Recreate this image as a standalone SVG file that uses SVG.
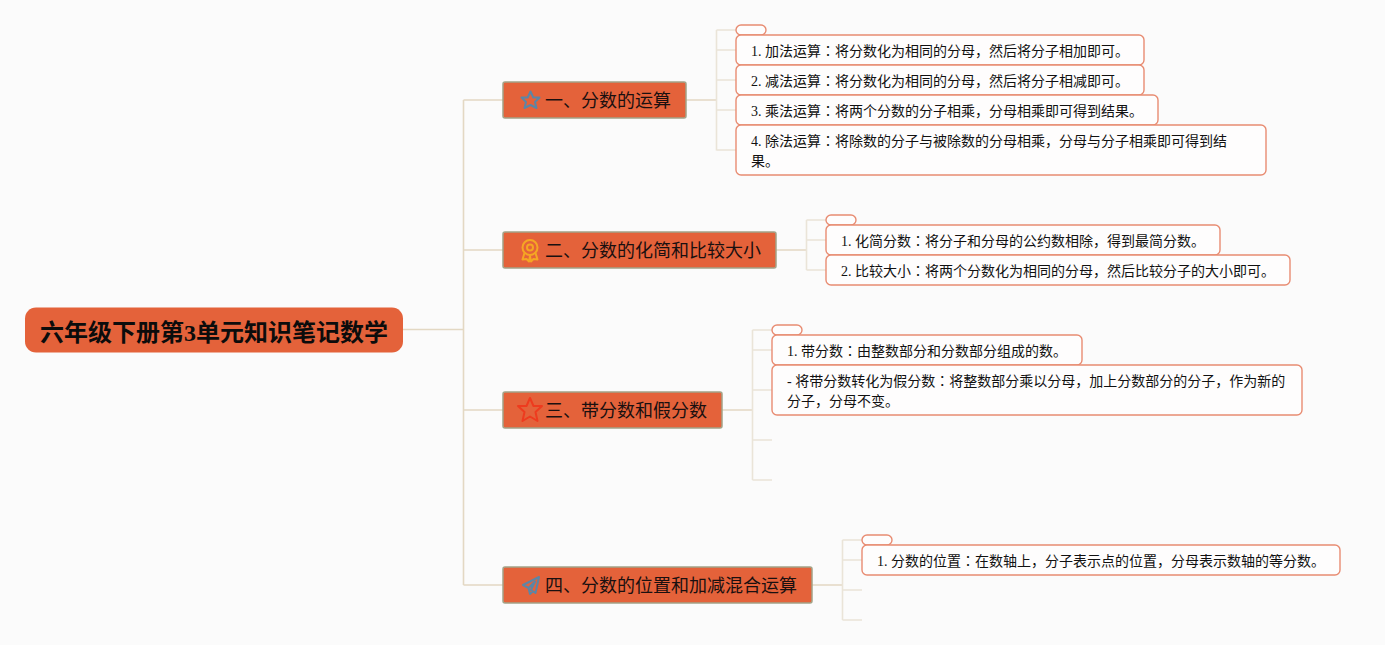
<svg xmlns="http://www.w3.org/2000/svg" width="1385" height="645" viewBox="0 0 1385 645">
<style>
text{font-family:"Liberation Serif","Noto Sans CJK SC",serif;fill:#111}
.j{font-family:"Noto Sans CJK JP",sans-serif}
.root rect{fill:#e4623a}
.root text{font-size:24px;font-weight:700;fill:#0c0c0c}
.branch rect{fill:#e4623a;stroke:#a3a388;stroke-width:1.5}
.branch text{font-size:18px;fill:#1a1010}
.leaf rect{fill:#fefdfd;stroke:#e88c72;stroke-width:1.4}
.leaf text{font-size:14px}
.c1{fill:none;stroke:#e3d8c3;stroke-width:1.6}
.c2{fill:none;stroke:#eae4d8;stroke-width:1.6}
.ic{fill:none;stroke-width:2;stroke-linejoin:round}
</style>
<rect width="1385" height="645" fill="#fbfbfb"/>
<g id="connectors">
<path class="c1" d="M403 329.500H463.500M463.500 100V585M463.500 100H503M463.500 250H503M463.500 410H503M463.500 585H503"/>
<path class="c1" d="M686 100H716M776 250H806M722 410H752M812 585H842"/>
<path class="c2" d="M716.500 30V150.500M716.500 30H736M716.500 50H736M716.500 80H736M716.500 110H736M716.500 150H736"/>
<path class="c2" d="M806.500 220V270M806.500 220H826M806.500 240H826M806.500 270H826"/>
<path class="c2" d="M752.500 330V480M752.500 330H772M752.500 350H772M752.500 390H772M752.500 440H772M752.500 480H772"/>
<path class="c2" d="M842.500 540V620M842.500 540H862M842.500 560H862M842.500 590H862M842.500 620H862"/>
</g>
<g id="root" class="root"><rect x="25" y="307.500" width="378" height="45" rx="11"/><text x="40" y="341">六年级下册第3单元知识笔记数学</text></g>

<g id="branch1" class="branch"><rect x="503" y="82" width="183" height="36" rx="2"/>
<path class="ic" stroke="#5b86a6" stroke-width="2.500" d="M530.500 91.500L533.300 97.500H539.500L535 102L536.500 108L530.500 105L524.500 108L526 102L521.500 97.500H527.700Z"/>
<text x="545" y="107">一、分数的运算</text></g>
<g id="branch2" class="branch"><rect x="503" y="232" width="273" height="36" rx="2"/>
<g class="ic" stroke="#f5a623"><circle cx="530" cy="247.500" r="7.500"/><circle cx="530" cy="247.500" r="3"/><path d="M524.500 253L522.500 259.500L526.500 259L529 261.500L530 256L531 261.500L533.500 259L537.500 259.500L535.500 253"/></g>
<text x="545" y="257">二、分数的化简和比较大小</text></g>
<g id="branch3" class="branch"><rect x="503" y="392" width="219" height="36" rx="2"/>
<path class="ic" stroke="#ee3b1e" d="M530 398L533.500 406H542L535.500 412L537.500 421L530 416.500L522.500 421L524.500 412L518 406H526.500Z"/>
<text x="545" y="417">三、带分数和假分数</text></g>
<g id="branch4" class="branch"><rect x="503" y="567" width="309" height="36" rx="2"/>
<path class="ic" stroke="#5b86a6" d="M539 577L523 585L528.500 588L535 581.500L531 590L535.500 593ZM528.500 588L530 594L532.500 591.500"/>
<text x="545" y="592">四、分数的位置和加减混合运算</text></g>

<g id="leaf1-0" class="leaf"><rect x="736" y="25" width="30" height="10" rx="5"/></g>
<g id="leaf1-1" class="leaf"><rect x="736" y="35" width="408" height="30" rx="5"/><text x="751" y="56">1. 加法运算<tspan class="j">：</tspan>将分数化为相同的分母，然后将分子相加即可。</text></g>
<g id="leaf1-2" class="leaf"><rect x="736" y="65" width="408" height="30" rx="5"/><text x="751" y="86">2. 减法运算<tspan class="j">：</tspan>将分数化为相同的分母，然后将分子相减即可。</text></g>
<g id="leaf1-3" class="leaf"><rect x="736" y="95" width="422" height="30" rx="5"/><text x="751" y="116">3. 乘法运算<tspan class="j">：</tspan>将两个分数的分子相乘，分母相乘即可得到结果。</text></g>
<g id="leaf1-4" class="leaf"><rect x="736" y="125" width="530" height="50" rx="5"/><text x="751" y="146">4. 除法运算<tspan class="j">：</tspan>将除数的分子与被除数的分母相乘，分母与分子相乘即可得到结</text><text x="751" y="166">果。</text></g>

<g id="leaf2-0" class="leaf"><rect x="826" y="215" width="30" height="10" rx="5"/></g>
<g id="leaf2-1" class="leaf"><rect x="826" y="225" width="394" height="30" rx="5"/><text x="841" y="246">1. 化简分数<tspan class="j">：</tspan>将分子和分母的公约数相除，得到最简分数。</text></g>
<g id="leaf2-2" class="leaf"><rect x="826" y="255" width="464" height="30" rx="5"/><text x="841" y="276">2. 比较大小<tspan class="j">：</tspan>将两个分数化为相同的分母，然后比较分子的大小即可。</text></g>

<g id="leaf3-0" class="leaf"><rect x="772" y="325" width="30" height="10" rx="5"/></g>
<g id="leaf3-1" class="leaf"><rect x="772" y="335" width="310" height="30" rx="5"/><text x="787" y="356">1. 带分数<tspan class="j">：</tspan>由整数部分和分数部分组成的数。</text></g>
<g id="leaf3-2" class="leaf"><rect x="772" y="365" width="530" height="50" rx="5"/><text x="787" y="386">- 将带分数转化为假分数<tspan class="j">：</tspan>将整数部分乘以分母，加上分数部分的分子，作为新的</text><text x="787" y="406">分子，分母不变。</text></g>

<g id="leaf4-0" class="leaf"><rect x="862" y="535" width="30" height="10" rx="5"/></g>
<g id="leaf4-1" class="leaf"><rect x="862" y="545" width="478" height="30" rx="5"/><text x="877" y="566">1. 分数的位置<tspan class="j">：</tspan>在数轴上，分子表示点的位置，分母表示数轴的等分数。</text></g>
</svg>
